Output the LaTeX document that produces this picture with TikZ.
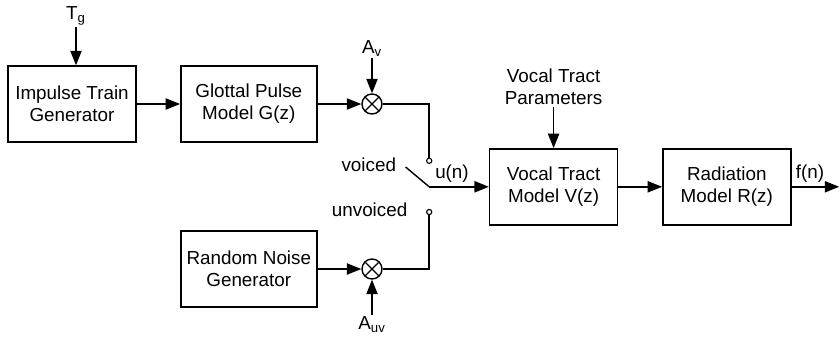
\documentclass[tikz,border=0pt]{standalone}
\usepackage{fontspec}
\setmainfont{Liberation Sans}
\usepackage{tikz}
\usetikzlibrary{arrows.meta}

\begin{document}
\begin{tikzpicture}[
        every node/.style={font=\fontsize{13.4}{15.8}\selectfont},
        block/.style={draw, line width=1pt, minimum width=3.2cm, minimum height=1.9cm, align=center},
        mixer/.style={draw, line width=1pt, circle, minimum size=0.5cm, inner sep=0pt,
            path picture={\draw[line width=1pt] (path picture bounding box.north west) -- (path picture bounding box.south east)
                (path picture bounding box.north east) -- (path picture bounding box.south west);}},
        contact/.style={draw, line width=0.8pt, circle, fill=white, minimum size=0.13cm, inner sep=0pt},
        tag/.style={inner sep=1pt, align=center},
        flow/.style={-{Triangle[length=3.6mm, width=2.8mm]}, line width=1pt},
        wire/.style={line width=1pt}
    ]
        \useasboundingbox (0,0) rectangle (21,-8.425);

        \node[block] (impulse) at (1.8,-2.6) {Impulse Train\\Generator};
        \node[block, minimum width=3.4cm] (glottal) at (6.22,-2.6) {Glottal Pulse\\Model G(z)};
        \node[mixer] (mixv) at (9.3,-2.6) {};
        \node[block, minimum width=3.4cm] (noise) at (6.22,-6.725) {Random Noise\\Generator};
        \node[mixer] (mixuv) at (9.3,-6.725) {};
        \node[block] (tract) at (13.84,-4.67) {Vocal Tract\\Model V(z)};
        \node[block] (radiation) at (18.17,-4.67) {Radiation\\Model R(z)};

        \node[tag] (tg) at (1.9,-0.4) {T\textsubscript{g}};
        \node[tag] (av) at (9.3,-1.22) {A\textsubscript{v}};
        \node[tag] (auv) at (9.3,-8.12) {A\textsubscript{uv}};
        \node[tag] (params) at (13.84,-2.175) {Vocal Tract\\Parameters};
        \node[tag] (voiced) at (9.22,-4.125) {voiced};
        \node[tag] (unvoiced) at (9.24,-5.25) {unvoiced};
        \node[tag] (un) at (11.3,-4.33) {u(n)};
        \node[tag] (fn) at (20.25,-4.33) {f(n)};

        \node[contact] (vpin) at (10.73,-4.02) {};
        \node[contact] (uvpin) at (10.73,-5.3) {};
        \coordinate (pivot) at (10.73,-4.67);
        \coordinate (blade) at (10.14,-4.175);
        \coordinate (out) at (20.98,-4.67);

        \draw[flow] (tg.south) -- (tg.south |- impulse.north);
        \draw[flow] (impulse.east) -- (glottal.west);
        \draw[flow] (glottal.east) -- (mixv.west);
        \draw[flow] (av.south) -- (mixv.north);
        \draw[flow] (noise.east) -- (mixuv.west);
        \draw[flow] (auv.north) -- (mixuv.south);
        \draw[wire] (mixv.east) -| (vpin.north);
        \draw[wire] (mixuv.east) -| (uvpin.south);
        \draw[wire] (blade) -- (pivot);
        \draw[flow] (pivot) -- (tract.west);
        \draw[flow] (params.south) -- (tract.north);
        \draw[flow] (tract.east) -- (radiation.west);
        \draw[flow] (radiation.east) -- (out);
    \end{tikzpicture}
\end{document}
